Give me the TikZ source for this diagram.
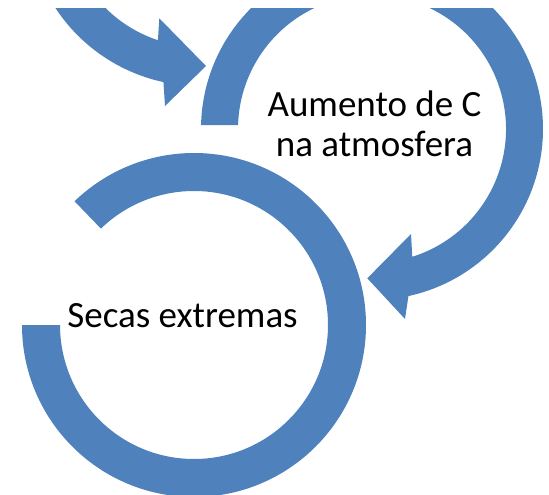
\documentclass[tikz,border=0pt]{standalone}
\usepackage{fontspec}
\setmainfont{Carlito}
\definecolor{arrowblue}{RGB}{79,129,189}
\begin{document}
\begin{tikzpicture}[x=1pt,y=1pt,
  band/.style={fill=arrowblue},
  lbl/.style={font=\fontsize{37}{40}\selectfont, inner sep=0pt, anchor=base, text=black}]
\useasboundingbox (0,0) rectangle (549,-495);
\begin{scope}
\clip (0,-9) rectangle (549,-495);
% upper-left circular arrow (mostly cut off)
\fill[band] ([shift={(200,87)}]-200:173pt) arc[start angle=-200, end angle=-102.2, radius=173pt]
  -- (165,-106) -- (206,-66) -- (159.3,-18.3)
  -- ([shift={(200,87)}]-108.3:134pt) arc[start angle=-108.3, end angle=-200, radius=134pt] -- cycle;
% upper-right circular arrow
\fill[band] ([shift={(372,-129)}]178.7:171pt) arc[start angle=178.7, end angle=-77.7, radius=171pt]
  -- (405,-319) -- (367.3,-278.3) -- (411,-234)
  -- ([shift={(372,-129)}]-72.5:134pt) arc[start angle=-72.5, end angle=178.3, radius=134pt] -- cycle;
% lower-left circular band
\fill[band] ([shift={(194,-325)}]-180:172pt) arc[start angle=-180, end angle=134, radius=172pt]
  -- ([shift={(194,-325)}]134:134pt) arc[start angle=134, end angle=-180, radius=134pt] -- cycle;
\end{scope}
\node[lbl] (aum1) at (374.5,-116) {Aumento de C};
\node[lbl] (aum2) at (374.5,-156) {na atmosfera};
\node[lbl] (secas) at (182.5,-327) {Secas extremas};
\end{tikzpicture}
\end{document}
